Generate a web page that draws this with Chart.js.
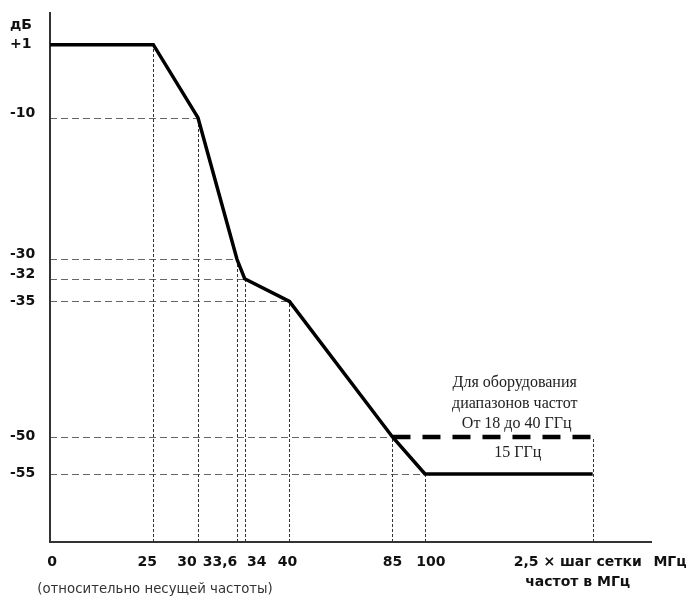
<!DOCTYPE html>
<html>
<head>
<meta charset="utf-8">
<script src="https://cdn.jsdelivr.net/npm/chart.js@4"></script>
<style>
    body { margin: 0; background: #fff; }
    canvas { display: block; }
</style>
</head>
<body>
<canvas id="maskChart" width="691" height="596"></canvas>
<script>
// frequency offset (MHz), 250 stands for "2,5 x channel spacing"
const freqTicks = [0, 25, 30, 33.6, 34, 40, 85, 100, 250];
const freqLabels = ['0', '25', '30', '33,6', '34', '40', '85', '100', ['2,5 × шаг сетки', 'частот в МГц']];
const levelTicks = [1, -10, -30, -32, -35, -50, -55];
const levelLabels = ['+1', '-10', '-30', '-32', '-35', '-50', '-55'];

const maskFreq = [0, 25, 30, 33.6, 34, 40, 85, 100, 250];
const maskLevel = [1, 1, -10, -30, -32, -35, -50, -55, -55];

const highBandFreq = [85, 250];
const highBandLevel = [-50, -50];

// the drawing is schematic: each axis is stretched between break points
const axisBreaks = {
    x: [[0, 0], [25, 0.1716], [30, 0.2458], [33.6, 0.3106], [34, 0.3234], [40, 0.3978],
        [85, 0.5689], [100, 0.6229], [250, 0.9015], [300, 1]],
    y: [[-62, 0], [-55, 0.1283], [-50, 0.1981], [-35, 0.4541], [-32, 0.4968], [-30, 0.5334],
        [-10, 0.8006], [1, 0.9383], [5, 1]],
};

function interp(breaks, v) {
    let i = 1;
    while (i < breaks.length - 1 && v > breaks[i][0]) i++;
    const [v0, d0] = breaks[i - 1];
    const [v1, d1] = breaks[i];
    return d0 + (v - v0) / (v1 - v0) * (d1 - d0);
}

class PiecewiseScale extends Chart.LinearScale {
    getPixelForValue(value) {
        return this.getPixelForDecimal(interp(axisBreaks[this.id], value));
    }
}
PiecewiseScale.id = 'piecewise';
PiecewiseScale.defaults = {};
Chart.register(PiecewiseScale);

const xNudge = [2, -6, -11, -17, 12, -2, 0, 6, -15];
const yNudge = [0, -4, -5, -4, 0, -1, -1];

const series = [
    { freq: maskFreq, level: maskLevel },
    { freq: highBandFreq, level: highBandLevel },
];

const axesPlugin = {
    id: 'axesPlugin',
    beforeDatasetsDraw(chart) {
        const { ctx, chartArea: a, scales: { x, y } } = chart;
        ctx.save();

        // horizontal guides: from the axis to the first point at that level
        ctx.strokeStyle = '#666';
        ctx.lineWidth = 1;
        ctx.setLineDash([7, 4]);
        levelTicks.forEach(lv => {
            let minF = Infinity;
            series.forEach(s => s.level.forEach((l, i) => { if (l === lv) minF = Math.min(minF, s.freq[i]); }));
            if (!isFinite(minF) || minF <= freqTicks[0]) return;
            const py = Math.round(y.getPixelForValue(lv)) + 0.5;
            ctx.beginPath();
            ctx.moveTo(a.left, py);
            ctx.lineTo(x.getPixelForValue(minF), py);
            ctx.stroke();
        });

        // vertical guides: from the axis up to the highest point at that frequency
        ctx.strokeStyle = '#333';
        ctx.setLineDash([3, 2]);
        freqTicks.forEach(f => {
            let maxL = -Infinity;
            series.forEach(s => s.freq.forEach((fr, i) => { if (fr === f) maxL = Math.max(maxL, s.level[i]); }));
            if (!isFinite(maxL) || f === freqTicks[0]) return;
            const px = Math.round(x.getPixelForValue(f)) + 0.5;
            ctx.beginPath();
            ctx.moveTo(px, a.bottom);
            ctx.lineTo(px, y.getPixelForValue(maxL));
            ctx.stroke();
        });

        // axes
        ctx.setLineDash([]);
        ctx.strokeStyle = '#333';
        ctx.lineWidth = 2;
        ctx.beginPath();
        ctx.moveTo(a.left, a.top);
        ctx.lineTo(a.left, a.bottom);
        ctx.lineTo(a.right, a.bottom);
        ctx.stroke();
        ctx.restore();
    },
    afterDraw(chart) {
        const { ctx, chartArea: a, scales: { x, y } } = chart;
        ctx.save();
        ctx.fillStyle = '#111';
        ctx.font = 'bold 14px "DejaVu Sans", Verdana, sans-serif';

        ctx.textAlign = 'left';
        ctx.textBaseline = 'middle';
        ctx.fillText('дБ', 10, 25);
        levelTicks.forEach((lv, i) => {
            ctx.fillText(levelLabels[i], 10, y.getPixelForValue(lv) + yNudge[i]);
        });

        ctx.textAlign = 'center';
        freqTicks.forEach((f, i) => {
            const lbl = [].concat(freqLabels[i]);
            lbl.forEach((t, k) => ctx.fillText(t, x.getPixelForValue(f) + xNudge[i], a.bottom + 20 + k * 20));
        });
        ctx.fillText('МГц', 670, a.bottom + 20);

        ctx.font = '13.3px "DejaVu Sans", Verdana, sans-serif';
        ctx.fillStyle = '#333';
        ctx.fillText('(относительно несущей частоты)', 155, a.bottom + 48);

        ctx.font = '16px "Liberation Serif", "Times New Roman", serif';
        ctx.fillStyle = '#222';
        const cx = x.getPixelForValue(250) - 78;
        ctx.fillText('Для оборудования', cx, y.getPixelForValue(-50) - 54);
        ctx.fillText('диапазонов частот', cx, y.getPixelForValue(-50) - 33);
        ctx.fillText('От 18 до 40 ГГц', cx + 2, y.getPixelForValue(-50) - 13);
        ctx.fillText('15 ГГц', cx + 3, y.getPixelForValue(-50) + 16);
        ctx.restore();
    },
};

new Chart(document.getElementById('maskChart'), {
    type: 'line',
    data: {
        datasets: [
            {
                label: 'Маска',
                data: maskFreq.map((f, i) => ({ x: f, y: maskLevel[i] })),
                borderColor: '#000',
                borderWidth: 3.5,
                borderJoinStyle: 'miter',
                pointRadius: 0,
                tension: 0,
                fill: false,
            },
            {
                label: '18-40 ГГц',
                data: highBandFreq.map((f, i) => ({ x: f, y: highBandLevel[i] })),
                borderColor: '#000',
                borderWidth: 4.5,
                borderDash: [18, 12],
                pointRadius: 0,
                fill: false,
            },
        ],
    },
    options: {
        responsive: false,
        animation: false,
        devicePixelRatio: 1,
        events: [],
        layout: { padding: { left: 50, top: 12, right: 39, bottom: 54 } },
        plugins: { legend: { display: false }, tooltip: { enabled: false } },
        scales: {
            x: { type: 'piecewise', display: false },
            y: { type: 'piecewise', display: false },
        },
    },
    plugins: [axesPlugin],
});
</script>
</body>
</html>
